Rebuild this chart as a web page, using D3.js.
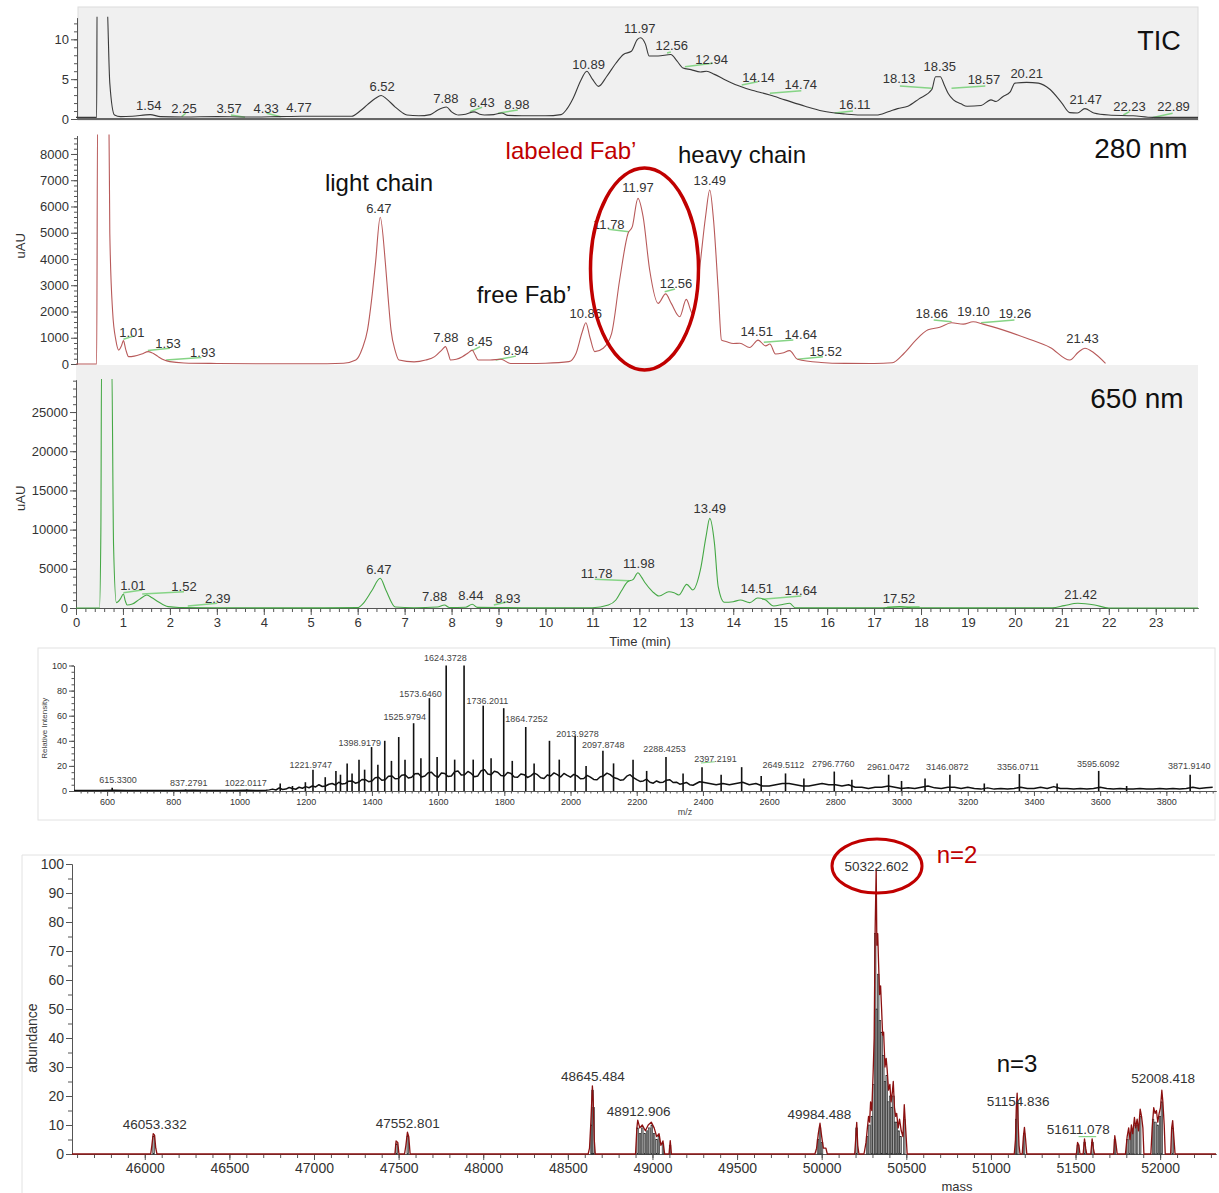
<!DOCTYPE html>
<html>
<head>
<meta charset="utf-8">
<script src="https://cdn.jsdelivr.net/npm/d3@7"></script>
<style>
  body { margin: 0; background: #fff; }
  svg text { font-family: "Liberation Sans", Arial, sans-serif; }
</style>
</head>
<body>
<svg id="chart" width="1219" height="1193"></svg>
<script>
// ---------- chromatogram traces: [time (min), signal] ----------
const ticTrace = [[0,0.2],[0.44,0.2],[0.45,16],[0.65,16],[0.72,4.5],[0.82,0.5],[0.95,0.3],[1.2,0.35],[1.58,0.55],[1.8,0.3],[2.3,0.25],[3.0,0.3],[3.6,0.25],[4.3,0.3],[4.8,0.35],[5.5,0.35],[5.87,0.35],[6.05,1.0],[6.21,1.8],[6.38,2.6],[6.5,2.95],[6.62,2.5],[6.8,1.5],[6.95,0.8],[7.05,0.5],[7.3,0.4],[7.55,0.55],[7.7,1.1],[7.89,1.5],[8.0,0.9],[8.15,0.5],[8.3,0.6],[8.48,0.9],[8.6,0.6],[8.7,0.5],[8.9,0.55],[9.07,0.75],[9.2,0.45],[9.5,0.4],[10.0,0.4],[10.33,0.55],[10.45,1.2],[10.59,2.6],[10.75,4.8],[10.88,6.0],[11.0,5.0],[11.13,4.1],[11.3,5.3],[11.5,7.0],[11.66,8.1],[11.83,8.5],[11.96,10.0],[12.03,10.2],[12.13,9.4],[12.21,7.9],[12.4,7.9],[12.67,8.1],[12.8,7.3],[12.93,6.4],[13.1,6.2],[13.3,5.9],[13.43,6.0],[13.6,5.6],[13.8,5.0],[14.1,4.2],[14.4,3.6],[14.6,3.3],[14.78,3.0],[15.1,2.4],[15.53,1.6],[15.9,1.0],[16.38,0.63],[16.7,0.5],[17.05,0.5],[17.3,0.9],[17.5,1.3],[17.72,1.6],[17.95,2.5],[18.23,3.7],[18.31,5.3],[18.41,5.3],[18.5,4.2],[18.58,3.2],[18.69,2.4],[18.85,1.9],[18.98,1.6],[19.28,1.7],[19.49,2.4],[19.6,2.2],[19.74,2.8],[19.9,3.4],[20.0,4.5],[20.25,4.6],[20.5,4.5],[20.75,3.7],[21.0,2.0],[21.17,0.8],[21.33,0.75],[21.49,1.3],[21.68,0.75],[22.0,0.5],[22.52,0.4],[22.94,0.2],[23.9,0.2]];

const uv280Trace = [[0,0],[0.44,0],[0.46,9500],[0.7,9500],[0.72,5000],[0.78,2000],[0.85,900],[0.91,530],[0.97,700],[1.01,890],[1.06,550],[1.12,280],[1.24,300],[1.4,380],[1.54,470],[1.65,400],[1.75,280],[1.88,150],[2.0,90],[2.3,40],[3.0,20],[4.0,10],[5.0,10],[5.7,30],[5.96,150],[6.1,600],[6.21,1300],[6.3,2500],[6.38,3850],[6.48,5590],[6.59,3850],[6.65,2500],[6.71,1300],[6.8,500],[6.88,150],[7.2,80],[7.45,150],[7.64,280],[7.8,550],[7.87,660],[7.93,400],[7.98,150],[8.1,180],[8.23,280],[8.35,420],[8.44,530],[8.5,350],[8.57,150],[8.82,150],[9.05,180],[9.26,20],[9.6,20],[10.0,30],[10.5,90],[10.65,400],[10.78,1200],[10.86,1570],[10.95,1000],[11.05,470],[11.23,600],[11.41,1170],[11.58,3200],[11.76,4980],[11.85,5230],[11.97,6310],[12.08,5610],[12.22,3580],[12.4,2310],[12.56,2670],[12.68,2310],[12.86,1800],[13.0,2460],[13.13,1930],[13.27,3450],[13.41,5610],[13.5,6630],[13.58,5490],[13.68,2820],[13.75,910],[13.86,850],[14.0,780],[14.14,790],[14.35,630],[14.53,910],[14.69,690],[14.78,760],[14.9,380],[15.05,420],[15.2,510],[15.37,180],[15.87,60],[16.38,25],[17.0,20],[17.39,50],[17.64,410],[17.89,910],[18.15,1300],[18.4,1400],[18.65,1570],[18.9,1520],[19.11,1610],[19.32,1520],[19.74,1300],[20.25,980],[20.75,630],[21.17,150],[21.35,450],[21.49,600],[21.68,430],[21.93,25]];

const uv650Trace = [[0,0],[0.5,0],[0.53,10000],[0.545,32000],[0.76,32000],[0.8,8000],[0.86,680],[0.95,1200],[1.01,1790],[1.05,900],[1.09,380],[1.2,500],[1.35,1100],[1.51,1660],[1.62,1300],[1.75,800],[1.96,170],[2.2,60],[3,30],[4,20],[5,10],[6.0,50],[6.12,600],[6.3,2200],[6.48,3790],[6.6,2300],[6.8,130],[7.2,40],[7.7,120],[7.85,380],[7.95,60],[8.3,100],[8.44,470],[8.55,80],[9.0,60],[9.5,40],[10,20],[11.0,40],[11.34,380],[11.5,1020],[11.62,2200],[11.75,3350],[11.87,3660],[11.97,4500],[12.05,3900],[12.13,3150],[12.28,2100],[12.42,1530],[12.63,2080],[12.74,1950],[12.84,1660],[13.01,3020],[13.14,2300],[13.3,4850],[13.42,9100],[13.5,11440],[13.6,8250],[13.68,2720],[13.81,730],[14.0,800],[14.15,1020],[14.35,680],[14.52,1280],[14.69,1020],[14.86,260],[15.05,450],[15.2,600],[15.32,40],[16,20],[17.2,40],[17.55,170],[17.8,40],[19,20],[20.8,30],[21.05,300],[21.34,600],[21.7,380],[22.0,0],[23.9,0]];

// peak labels: [text, time position, signal position]
const ticLabels = [["1.54",1.55,1.13],["2.25",2.30,0.75],["3.57",3.26,0.75],["4.33",4.05,0.75],["4.77",4.75,0.88],["6.52",6.52,3.5],["7.88",7.88,2.0],["8.43",8.65,1.5],["8.98",9.39,1.25],["10.89",10.92,6.27],["11.97",12.01,10.8],["12.56",12.69,8.6],["12.94",13.54,6.9],["14.14",14.54,4.64],["14.74",15.44,3.76],["16.11",16.59,1.25],["18.13",17.53,4.52],["18.35",18.4,6.0],["18.57",19.34,4.4],["20.21",20.25,5.14],["21.47",21.51,1.88],["22.23",22.44,1.0],["22.89",23.38,1.0]];
const uv280Labels = [["1.01",1.19,1030],["1.53",1.96,610],["1.93",2.70,270],["6.47",6.45,5750],["7.88",7.88,840],["8.45",8.6,690],["8.94",9.37,340],["10.86",10.86,1750],["11.78",11.35,5140],["11.97",11.97,6550],["12.56",12.78,2900],["13.49",13.5,6820],["14.51",14.5,1070],["14.64",15.44,950],["15.52",15.97,300],["18.66",18.23,1750],["19.10",19.12,1830],["19.26",20.0,1750],["21.43",21.44,800]];
const uv650Labels = [["1.01",1.21,2300],["1.52",2.30,2170],["2.39",3.02,640],["6.47",6.45,4340],["7.88",7.64,890],["8.44",8.41,1020],["8.93",9.2,640],["11.78",11.09,3830],["11.98",11.99,5100],["13.49",13.5,12120],["14.51",14.5,1910],["14.64",15.44,1660],["17.52",17.53,640],["21.42",21.4,1150]];

// integration baselines: [t0, v0, t1, v1]
const ticBaselines = [[2.25,0.29,2.34,0.72],[3.3,0.5,3.6,0.21],[4.06,0.72,4.36,0.29],[8.39,0.92,8.65,1.47],[8.99,0.72,9.41,1.13],[12.59,8.28,12.67,8.4],[12.97,6.56,13.56,6.99],[14.18,4.27,14.52,4.68],[14.78,3.22,15.45,3.55],[16.16,0.75,16.55,1.0],[17.55,4.14,18.23,3.85],[18.65,3.85,19.37,4.14],[22.31,0.5,22.44,0.92],[22.94,0.2,23.36,0.72]];
const uv280Baselines = [[1.01,940,1.24,1070],[1.53,510,2.0,600],[1.92,150,2.67,250],[8.44,510,8.61,660],[8.94,150,9.37,300],[11.34,5130,11.78,5040],[12.54,2750,12.76,2860],[14.65,830,15.28,910],[15.37,180,15.91,280],[18.27,1680,18.65,1610],[19.28,1570,19.99,1680]];
const uv650Baselines = [[1.01,1950,1.41,2300],[1.41,1790,2.3,2080],[2.38,250,3.01,600],[8.9,380,9.2,800],[11.05,3660,11.79,3480],[14.61,1110,15.45,1530],[17.28,130,17.97,170]];

// ---------- mass spectrum: [m/z, relative intensity] ----------
const msNoise = [[500,0.3],[540,0.4],[580,0.3],[620,0.5],[660,0.3],[700,0.4],[740,0.3],[780,0.4],[820,0.3],[860,0.5],[900,0.3],[940,0.4],[980,0.3],[1020,0.5],[1060,0.4],[1080,0.6],[1090,0.9],
  [1100,1.5],[1110,0.8],[1120,2.5],[1130,1.2],[1140,1.5],[1150,2.8],[1160,2],[1170,1.4],[1180,3],[1190,2.2],[1200,3.5],[1210,2.6],[1220,4],[1230,3.2],[1240,5],[1250,3.6],[1260,4],[1270,5.4],[1280,6],[1290,4.8],[1300,7],[1310,5.5],[1320,6],[1330,7.8],[1340,8],[1350,6.2],[1360,7],[1370,9.2],[1380,9],[1390,7.4],[1400,8],[1410,10.5],[1420,11],[1430,8.6],[1440,9],[1450,11.8],[1460,12],[1470,9.8],[1480,10],[1490,12.6],[1500,13],[1510,10.4],[1520,11],[1530,13.8],[1540,14],[1550,11.2],[1560,12],[1570,14.6],[1580,15],[1590,12.2],[1600,11],[1610,14.4],[1620,14],[1630,11.6],[1640,12],[1650,15.4],[1660,16],[1670,12.8],[1680,13],[1690,15.6],[1700,14],[1710,11.4],[1720,12],[1730,16.2],[1740,17],[1750,13.6],[1760,13],[1770,15.8],[1780,15],[1790,12.4],[1800,12],[1810,14.8],[1820,14],[1830,11.2],[1840,11],[1850,13.6],[1860,13],[1870,10.8],[1880,12],[1890,14.2],[1900,13],[1910,10.6],[1920,10],[1930,12.8],[1940,12],[1950,14.4],[1960,13],[1970,11.2],[1980,14],[1990,12.4],[2000,11],[2010,13.2],[2020,12],[2030,9.8],[2040,10],[2050,12.4],[2060,11],[2070,9.2],[2080,9],[2090,11.4],[2100,12],[2110,14.2],[2120,13],[2130,10.8],[2140,10],[2150,8.6],[2160,9],[2170,11.8],[2180,13],[2190,10.6],[2200,9],[2210,7.6],[2220,8],[2230,9.4],[2240,7],[2250,6.2],[2260,8],[2270,6.8],[2280,7],[2290,8.6],[2300,9],[2310,6.8],[2320,7],[2330,5.4],[2340,6],[2350,6.8],[2360,5],[2370,4.6],[2380,6],[2390,7.4],[2400,7],
  [2420,6],[2440,5],[2460,6],[2480,5],[2500,6],[2520,7],[2540,5],[2560,6],[2580,4],[2600,4],[2620,5],[2640,6],[2660,6],[2680,5],[2700,4],[2720,4],[2740,5],[2760,6],[2780,5],[2800,5],[2820,4],[2840,5],[2860,3],[2880,3],[2900,2],[2920,3],[2940,3],[2960,4],[2980,3],[3000,2],[3020,2.5],[3040,2],[3060,3],[3080,4],[3100,2.5],[3120,2],[3140,3],[3160,3],[3180,2],[3200,3],[3220,2],[3240,1.5],[3260,2.5],[3280,1.5],[3300,2],[3320,1.5],[3340,2],[3360,3],[3380,2],[3400,2],[3420,3],[3440,2],[3460,3.5],[3480,2],[3500,2],[3520,1.5],[3540,2],[3560,1.5],[3580,2],[3600,3],[3620,2],[3640,1.5],[3660,2],[3680,1.5],[3700,1.5],[3720,2],[3740,1.5],[3760,1.5],[3780,2],[3800,1.5],[3820,2],[3840,1.5],[3860,2],[3880,3],[3900,2],[3920,2.5],[3940,3]];
const msPeaks = [[615.33,2.5],[837.28,1.2],[1022.01,1.2],[1123,6],[1160,4],[1199,7],[1221.97,17],[1259,11],[1291.3,16],[1325.2,22],[1361,25],[1398.92,35],[1438.8,40],[1481,43],[1525.98,54],[1573.65,74],[1624.37,100],[1678.4,100],[1736.2,68],[1798.2,66],[1864.73,51],[1936.4,40],[2013.93,44],[2097.87,32],[2188.9,25],[2288.43,27],[2397.22,19],[2517,19],[2649.51,14],[2796.78,15.5],[2961.05,13],[3071,10],[3146.09,13],[3356.07,13.5],[3595.61,16],[3871.91,13]];
const msMinorPeaks = [[1305,13],[1340,14],[1378,17],[1418,21],[1459,24],[1500,25],[1548,26],[1597,27],[1650,25],[1706,25],[1760,26],[1824,24],[1890,22],[1966,25],[2047,20],[2130,22],[2230,16],[2340,14],[2455,13],[2576,12],[2705,10],[2850,9],[3000,8],[3250,6],[3470,6],[3680,4]];
const msLabels = [["615.3300",633,6.4],["837.2791",847,4.0],["1022.0117",1019,4.0],["1221.9747",1215,18.3],["1398.9179",1363,35.9],["1525.9794",1499,56.6],["1573.6460",1547,74.9],["1624.3728",1622,103.6],["1736.2011",1749,69.3],["1864.7252",1867,55.0],["2013.9278",2021,43.0],["2097.8748",2099,34.3],["2288.4253",2284,31.1],["2397.2191",2438,23.1],["2649.5112",2643,18.3],["2796.7760",2794,19.1],["2961.0472",2960,16.7],["3146.0872",3138,16.7],["3356.0711",3352,16.7],["3595.6092",3594,19.1],["3871.9140",3869,17.5]];

// ---------- deconvoluted spectrum: [mass, abundance] ----------
const deconvProfile = [[45570,0],[46035,0],[46042,3],[46050,7],[46058,6.5],[46065,2],[46072,0],[47478,0],[47485,4.5],[47495,4],[47502,0],[47535,0],[47543,3],[47552,7.5],[47560,6],[47568,0],[48620,0],[48628,2],[48636,11],[48645,23.5],[48650,18],[48656,5],[48662,0],[48900,0],[48908,9],[48913,11.7],[48925,9],[48940,10],[48958,8],[48975,10],[48993,11],[49010,9],[49025,6],[49039,7],[49050,3],[49062,4.5],[49072,0],[49098,0],[49105,4.6],[49112,0],[49960,0],[49970,2],[49980,7],[49990,10.6],[50000,6],[50010,2],[50025,2],[50033,0],[50195,0],[50202,6],[50207,10.9],[50213,3],[50220,0],[50250,0],[50262,4],[50270,9],[50277,13],[50283,11],[50289,18],[50296,15],[50304,28],[50310,40],[50316,78],[50322,98.5],[50326,72],[50331,76],[50336,66],[50342,55],[50348,58],[50354,50],[50360,41],[50366,42],[50374,30],[50381,33],[50387,29],[50395,22],[50403,24],[50410,18],[50417,21],[50423,25],[50430,16],[50437,13],[50443,14],[50452,9],[50460,12],[50470,8],[50480,6],[50488,17],[50495,10],[50505,0],[51138,0],[51145,5],[51150,16],[51155,21],[51160,12],[51166,3],[51172,0],[51185,0],[51192,6],[51198,9.2],[51205,5],[51212,0],[51505,0],[51512,4],[51520,3],[51526,0],[51545,0],[51553,5.2],[51560,2],[51566,0],[51590,0],[51598,5.2],[51605,2],[51612,0],[51725,0],[51732,6.3],[51740,3],[51746,0],[51795,0],[51805,6],[51814,9],[51822,5],[51830,10],[51838,7],[51848,12.6],[51855,9],[51864,12],[51872,8],[51882,15.5],[51890,13],[51898,9],[51904,0],[51945,0],[51953,9],[51962,16],[51970,14],[51978,15],[51986,11],[51994,14],[52002,16],[52010,22],[52016,18],[52024,10],[52030,0],[52062,0],[52068,9],[52074,11.5],[52082,5],[52088,0],[52330,0]];
const deconvBars = [[46052,6],[47488,3.5],[47554,6],[48640,10],[48646,22],[48652,16],[48912,9],[48926,7],[48940,9],[48954,7],[48968,8],[48982,9],[48996,10],[49010,7],[49024,5],[49038,6],[49062,3.5],[49104,3],[49978,5],[49990,9],[50002,4],[50206,9],[50268,6],[50282,10],[50296,13],[50306,24],[50316,76],[50326,50],[50334,62],[50344,46],[50354,42],[50364,34],[50374,25],[50384,27],[50394,18],[50404,20],[50414,16],[50424,20],[50434,11],[50444,11],[50456,8],[50466,6],[50488,12],[51150,12],[51156,18],[51196,7],[51514,3],[51554,4],[51600,4],[51733,5],[51806,5],[51820,7],[51834,8],[51848,10],[51864,10],[51882,13],[51958,12],[51972,11],[51986,10],[52000,13],[52010,18],[52074,9]];
const deconvLabels = [["46053.332",46059,8.5],["47552.801",47554,9.0],["48645.484",48648,25.3],["48912.906",48918,13.1],["49984.488",49986,12.0],["50322.602",50324,97.6],["51154.836",51161,16.4],["51611.078",51516,6.9],["52008.418",52018,24.5]];

const svg = d3.select("#chart");
const axisColor = "#555";
const textColor = "#333";

// ---------- scales ----------
const xT = d3.scaleLinear().domain([0, 23.9]).range([76, 1198]);
const yTIC = d3.scaleLinear().domain([0, 12.7]).range([119, 17.8]);
const y280 = d3.scaleLinear().domain([0, 8700]).range([364, 135.6]);
const y650 = d3.scaleLinear().domain([0, 29100]).range([608, 379.9]);
const xMZ = d3.scaleLinear().domain([500, 3950]).range([74, 1216]);
const yMS = d3.scaleLinear().domain([0, 100]).range([791, 665.5]);
const xMass = d3.scaleLinear().domain([45570, 52330]).range([72, 1216]);
const yAb = d3.scaleLinear().domain([0, 100]).range([1154, 864]);

// clip regions so the solvent-front spikes run off the top of each panel
const defs = svg.append("defs");
[["clipTic", yTIC], ["clip280", y280], ["clip650", y650]].forEach(([id, y]) => {
  defs.append("clipPath").attr("id", id).append("rect")
    .attr("x", 70).attr("width", 1140)
    .attr("y", y.range()[1] - 1).attr("height", y.range()[0] - y.range()[1] + 6);
});

// panel backgrounds and frames
svg.append("rect").attr("x", 78).attr("y", 7).attr("width", 1120).attr("height", 113)
  .attr("fill", "#f0f0f0").attr("stroke", "#dcdcdc");
svg.append("rect").attr("x", 76).attr("y", 365).attr("width", 1122).attr("height", 243)
  .attr("fill", "#f0f0f0");
svg.append("rect").attr("x", 38).attr("y", 648).attr("width", 1177).attr("height", 172)
  .attr("fill", "none").attr("stroke", "#e2e2e2");
svg.append("path").attr("d", "M22,1193V855H1215").attr("fill", "none").attr("stroke", "#e2e2e2");

// ---------- helpers ----------
function drawYAxis(scale, x, major, minor, fontSize, majorLen, minorLen) {
  svg.append("g").attr("transform", `translate(${x},0)`).attr("color", axisColor)
    .call(d3.axisLeft(scale).tickValues(minor).tickSize(minorLen).tickFormat("").tickSizeOuter(0));
  svg.append("g").attr("transform", `translate(${x},0)`).attr("color", axisColor)
    .call(d3.axisLeft(scale).tickValues(major).tickSize(majorLen).tickPadding(2).tickSizeOuter(0).tickFormat(d3.format("d")))
    .call(g => g.selectAll("text").style("font-size", fontSize + "px").attr("fill", textColor));
}

function drawXAxis(scale, y, major, minor, fontSize, majorLen, minorLen) {
  svg.append("g").attr("transform", `translate(0,${y})`).attr("color", axisColor)
    .call(d3.axisBottom(scale).tickValues(minor).tickSize(minorLen).tickFormat("").tickSizeOuter(0));
  svg.append("g").attr("transform", `translate(0,${y})`).attr("color", axisColor)
    .call(d3.axisBottom(scale).tickValues(major).tickSize(majorLen).tickPadding(3).tickSizeOuter(0).tickFormat(d3.format("d")))
    .call(g => g.selectAll("text").style("font-size", fontSize + "px").attr("fill", textColor));
}

function drawTrace(data, x, y, color, width, curve, clip) {
  const p = svg.append("path").datum(data)
    .attr("fill", "none").attr("stroke", color).attr("stroke-width", width)
    .attr("stroke-linejoin", "round")
    .attr("d", d3.line().curve(curve || d3.curveLinear).x(d => x(d[0])).y(d => y(d[1])));
  if (clip) p.attr("clip-path", `url(#${clip})`);
}

function drawLabels(labels, x, y, size) {
  svg.append("g").selectAll("text").data(labels).enter().append("text")
    .attr("x", d => x(d[1])).attr("y", d => y(d[2]))
    .attr("text-anchor", "middle").attr("fill", textColor)
    .style("font-size", size + "px").text(d => d[0]);
}

function drawBaselines(segs, x, y) {
  svg.append("g").selectAll("line").data(segs).enter().append("line")
    .attr("x1", d => x(d[0])).attr("y1", d => y(d[1]))
    .attr("x2", d => x(d[2])).attr("y2", d => y(d[3]))
    .attr("stroke", "#86d486").attr("stroke-width", 1.5);
}

function bigText(txt, x, y, size, color) {
  svg.append("text").attr("x", x).attr("y", y).attr("text-anchor", "middle")
    .attr("fill", color).style("font-size", size + "px").text(txt);
}

// ---------- TIC panel ----------
drawYAxis(yTIC, 77, [0, 5, 10], d3.range(0, 13, 1), 13, 6, 3);
svg.append("line").attr("x1", 77).attr("x2", 1198).attr("y1", yTIC(0)).attr("y2", yTIC(0))
  .attr("stroke", "#666").attr("stroke-width", 2);
drawBaselines(ticBaselines, xT, yTIC);
drawTrace(ticTrace, xT, yTIC, "#3a3a3a", 1.1, d3.curveMonotoneX, "clipTic");
drawLabels(ticLabels, xT, yTIC, 13);
bigText("TIC", 1159, 50, 27, "#111");

// ---------- 280 nm panel ----------
drawYAxis(y280, 77, d3.range(0, 8001, 1000), d3.range(0, 8701, 200), 13, 6, 3);
drawBaselines(uv280Baselines, xT, y280);
drawTrace(uv280Trace, xT, y280, "#b85a5a", 1.1, d3.curveMonotoneX, "clip280");
drawLabels(uv280Labels, xT, y280, 13);
bigText("280 nm", 1141, 158, 28, "#111");
bigText("light chain", 379, 191, 24, "#111");
bigText("labeled Fab’", 571, 159, 24, "#c00000");
bigText("heavy chain", 742, 163, 24, "#111");
bigText("free Fab’", 524, 303, 24, "#111");
svg.append("ellipse").attr("cx", 644.5).attr("cy", 269).attr("rx", 54).attr("ry", 101)
  .attr("fill", "none").attr("stroke", "#c00000").attr("stroke-width", 3.5);
svg.append("text").attr("transform", `translate(25,${y280(4500)}) rotate(-90)`)
  .attr("text-anchor", "middle").attr("fill", textColor).style("font-size", "13px").text("uAU");

// ---------- 650 nm panel ----------
drawYAxis(y650, 76, d3.range(0, 25001, 5000), d3.range(0, 29001, 1000), 13, 6, 3);
drawXAxis(xT, 608, d3.range(0, 24, 1), d3.range(0, 23.95, 0.2), 13, 7, 4);
drawBaselines(uv650Baselines, xT, y650);
drawTrace(uv650Trace, xT, y650, "#45a845", 1.1, d3.curveMonotoneX, "clip650");
drawLabels(uv650Labels, xT, y650, 13);
bigText("650 nm", 1137, 408, 28, "#111");
svg.append("text").attr("transform", `translate(25,${y650(14000)}) rotate(-90)`)
  .attr("text-anchor", "middle").attr("fill", textColor).style("font-size", "13px").text("uAU");
svg.append("text").attr("x", 640).attr("y", 646).attr("text-anchor", "middle")
  .attr("fill", textColor).style("font-size", "13px").text("Time (min)");

// ---------- mass spectrum panel ----------
drawYAxis(yMS, 74, d3.range(0, 101, 20), d3.range(0, 101, 5), 9, 5, 2.5);
drawXAxis(xMZ, 791, d3.range(600, 3801, 200), d3.range(520, 3950, 20), 9, 5, 2.5);
svg.append("g").selectAll("line").data(msMinorPeaks.concat(msPeaks)).enter().append("line")
  .attr("x1", d => xMZ(d[0])).attr("x2", d => xMZ(d[0]))
  .attr("y1", yMS(0)).attr("y2", d => yMS(d[1]))
  .attr("stroke", "#111").attr("stroke-width", 1.6);
drawTrace(msNoise, xMZ, yMS, "#111", 1.5);
svg.append("g").selectAll("text").data(msLabels).enter().append("text")
  .attr("x", d => xMZ(d[1])).attr("y", d => yMS(d[2]))
  .attr("text-anchor", "middle").attr("fill", "#444")
  .style("font-size", "9px").text(d => d[0]);
svg.append("line").attr("x1", xMZ(2394)).attr("y1", yMS(22.3)).attr("x2", xMZ(2436)).attr("y2", yMS(23.3))
  .attr("stroke", "#86d486").attr("stroke-width", 1.2);
svg.append("text").attr("transform", `translate(47,${yMS(50)}) rotate(-90)`)
  .attr("text-anchor", "middle").attr("fill", "#444").style("font-size", "8px").text("Relative Intensity");
svg.append("text").attr("x", 685).attr("y", 815).attr("text-anchor", "middle")
  .attr("fill", "#444").style("font-size", "9px").text("m/z");

// ---------- deconvoluted mass panel ----------
drawYAxis(yAb, 72, d3.range(0, 101, 10), d3.range(0, 101, 5), 14, 6, 4);
drawXAxis(xMass, 1154, d3.range(46000, 52001, 500), d3.range(45600, 52330, 100), 14, 6, 4);
svg.append("g").selectAll("rect").data(deconvBars).enter().append("rect")
  .attr("x", d => xMass(d[0]) - 0.8).attr("width", 1.6)
  .attr("y", d => yAb(d[1])).attr("height", d => yAb(0) - yAb(d[1]))
  .attr("fill", "#a8a8a8").attr("stroke", "#222").attr("stroke-width", 0.6);
drawTrace(deconvProfile, xMass, yAb, "#8b1010", 1.3);
svg.append("g").selectAll("text").data(deconvLabels).enter().append("text")
  .attr("x", d => xMass(d[1])).attr("y", d => yAb(d[2]))
  .attr("text-anchor", "middle").attr("fill", textColor)
  .style("font-size", "13.5px").text(d => d[0]);
svg.append("line").attr("x1", xMass(51518)).attr("x2", xMass(51622)).attr("y1", yAb(6.0)).attr("y2", yAb(6.0))
  .attr("stroke", "#86d486").attr("stroke-width", 1.2);
svg.append("ellipse").attr("cx", 877).attr("cy", 866).attr("rx", 45).attr("ry", 27)
  .attr("fill", "none").attr("stroke", "#c00000").attr("stroke-width", 3);
bigText("n=2", 957, 863, 24, "#c00000");
bigText("n=3", 1017, 1072, 24, "#111");
svg.append("text").attr("transform", `translate(37,${yAb(40)}) rotate(-90)`)
  .attr("text-anchor", "middle").attr("fill", textColor).style("font-size", "14px").text("abundance");
svg.append("text").attr("x", 957).attr("y", 1191).attr("text-anchor", "middle")
  .attr("fill", textColor).style("font-size", "13px").text("mass");
</script>
</body>
</html>
